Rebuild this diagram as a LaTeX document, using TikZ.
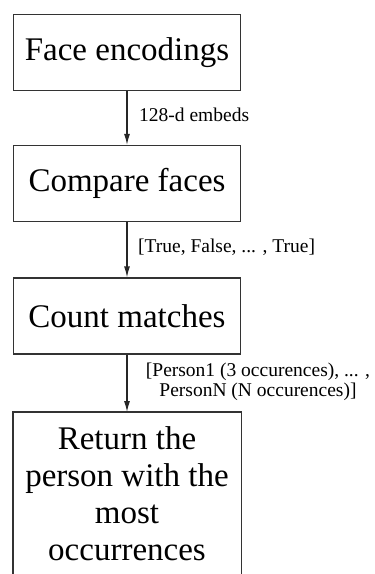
\documentclass[tikz,border=0pt]{standalone}
\usepackage{fontspec}
\setmainfont{Liberation Serif}
\usetikzlibrary{arrows.meta}

\tikzset{
  stage/.style={draw=black!80, line width=1.2pt, minimum width=227pt,
    minimum height=76pt, inner sep=0pt, font=\fontsize{33}{37}\selectfont},
  flow/.style={draw=black!85, line width=1.2pt, -{Latex[length=11pt,width=6pt]}},
  lbl/.style={inner sep=0pt, font=\fontsize{19.5}{20}\selectfont}
}

\begin{document}
\begin{tikzpicture}[x=1pt,y=-1pt]
\useasboundingbox (0,0) rectangle (375,574);
\clip (0,0) rectangle (375,574);
\node[stage] (enc) at (127,52.5) {Face encodings};
\node[stage] (cmp) at (127,183.5) {Compare faces};
\node[stage] (cnt) at (127,316) {Count matches};
% last box runs off the bottom of the page
\node[stage, draw=none, align=center, anchor=north, minimum height=162pt] (ret)
  at (127,412) {Return the\\person with the\\most\\occurrences};
\draw[black!80, line width=1.2pt] ([yshift=-30pt]ret.south west) -- (ret.north west)
  -- (ret.north east) -- ([yshift=-30pt]ret.south east);

\draw[flow] (enc) -- (cmp);
\draw[flow] (cmp) -- (cnt);
\draw[flow] (cnt) -- (ret);

\node[lbl, anchor=west] (embeds) at (139,115) {128-d embeds};
\node[lbl, anchor=west] (bools) at (138,247) {[True, False, ... , True]};
\node[lbl, align=center] (counts) at (258,382)
  {[Person1 (3 occurences), ... ,\\PersonN (N occurences)]};
\end{tikzpicture}
\end{document}
